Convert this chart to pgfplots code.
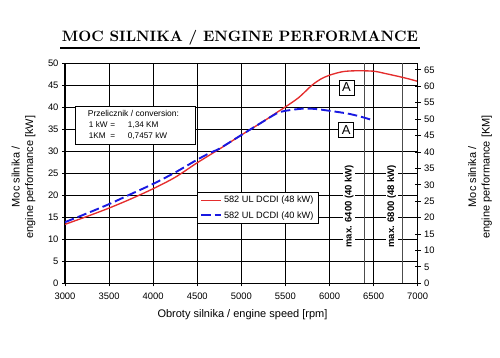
\documentclass[border=0pt]{standalone}
\usepackage{fontspec}
\setsansfont{Liberation Sans}
\usepackage{graphicx}
\usepackage{pgfplots}
\pgfplotsset{compat=1.18}
\definecolor{cred}{RGB}{228,45,45}
\definecolor{cblue}{RGB}{25,25,225}

\begin{document}
\begin{tikzpicture}
\useasboundingbox (-65pt,-74.7pt) rectangle (435pt,283.3pt);
\begin{axis}[
  at={(0pt,0pt)}, anchor=south west,
  scale only axis, width=352.7pt, height=220pt,
  xmin=3000, xmax=7000, ymin=0, ymax=50,
  xtick={3000,3500,...,7000}, ytick={0,5,...,50},
  tick pos=left, tick align=center, major tick length=6pt,
  grid=major, major grid style={black, line width=0.9pt},
  axis line style={black, line width=1.1pt},
  tick style={black, line width=0.9pt},
  /pgf/number format/assume math mode=true,
  /pgf/number format/1000 sep={},
  tick label style={font=\sffamily\fontsize{9.4}{10}\selectfont},
  xticklabel style={yshift=-3pt},
  legend style={at={(0.374,0.415)}, anchor=north west, draw=black, fill=white,
    font=\sffamily\fontsize{9.2}{10}\selectfont, row sep=3pt, inner xsep=3pt, inner ysep=2pt},
  legend cell align=left,
  legend image code/.code={\draw[#1] (0pt,0pt) -- (20pt,0pt);},
]
\addplot[gray!60!black, line width=0.7pt, forget plot] coordinates {(6400,0) (6400,50)};
\addplot[gray!60!black, line width=0.7pt, forget plot] coordinates {(6830,0) (6830,50)};

\addplot[cred, line width=1.35pt, smooth] coordinates {
(3000,13.4) (3250,15.2) (3500,17.1) (3750,19.2) (4000,21.5) (4250,24.1)
(4500,27.4) (4750,30.5) (5000,33.7) (5250,36.8) (5400,38.8) (5500,40.1)
(5650,42.2) (5800,45.0) (5900,46.4) (6000,47.3) (6150,48.1) (6300,48.3)
(6500,48.2) (6650,47.6) (6850,46.7) (7000,45.9)};
\addlegendentry{582 UL DCDI (48 kW)}

\addplot[cblue, line width=1.9pt, dash pattern=on 9.5pt off 4pt, smooth] coordinates {
(3000,13.9) (3250,15.9) (3500,18.0) (3750,20.3) (4000,22.6) (4250,25.2)
(4500,28.1) (4650,29.7) (4750,30.6) (5000,33.7) (5250,36.8) (5400,38.6)
(5500,39.2) (5700,39.7) (5850,39.6) (6000,39.2) (6200,38.6) (6350,37.9)
(6500,37.0)};
\addlegendentry{582 UL DCDI (40 kW)}

\node[rotate=90, fill=white, inner xsep=1pt, inner ysep=1.5pt,
  font=\sffamily\bfseries\fontsize{9.5}{10}\selectfont] at (axis cs:6223,17.5) {max. 6400 (40 kW)};
\node[rotate=90, fill=white, inner xsep=1pt, inner ysep=1.5pt,
  font=\sffamily\bfseries\fontsize{9.5}{10}\selectfont] at (axis cs:6704,17.5) {max. 6800 (48 kW)};

\node[draw, line width=0.8pt, fill=white, minimum size=15pt, inner sep=0pt,
  font=\sffamily\fontsize{13}{13}\selectfont] at (axis cs:6193,44.5) {A};
\node[draw, line width=0.8pt, fill=white, minimum size=15pt, inner sep=0pt,
  font=\sffamily\fontsize{13}{13}\selectfont] at (axis cs:6190,34.8) {A};

\draw[fill=white, line width=0.9pt] (axis cs:3113,40.1) rectangle (axis cs:4474,31.6);
\node[anchor=west, inner sep=0pt, font=\sffamily\fontsize{8.5}{9}\selectfont]
  at (axis cs:3257,38.7) {Przelicznik / conversion:};
\node[anchor=west, inner sep=0pt, font=\sffamily\fontsize{8.2}{9}\selectfont]
  at (axis cs:3269,36.0) {\makebox[21.5pt][l]{1 kW}\makebox[17.5pt][l]{=}1,34 KM};
\node[anchor=west, inner sep=0pt, font=\sffamily\fontsize{8.2}{9}\selectfont]
  at (axis cs:3269,33.5) {\makebox[21.5pt][l]{1KM}\makebox[17.5pt][l]{=}0,7457 kW};
\end{axis}

\begin{axis}[
  at={(0pt,0pt)}, anchor=south west,
  scale only axis, width=352.7pt, height=220pt,
  xmin=3000, xmax=7000, ymin=0, ymax=67,
  hide x axis, axis y line*=right,
  ytick={0,5,...,65}, tick align=center, major tick length=6pt,
  axis line style={black, line width=1.1pt},
  tick style={black, line width=0.9pt},
  /pgf/number format/assume math mode=true,
  tick label style={font=\sffamily\fontsize{9.4}{10}\selectfont},
]
\addplot[draw=none] coordinates {(3000,0) (7000,67)};
\end{axis}

\node[font=\rmfamily\bfseries] at (175pt,245.8pt)
  {\resizebox{356pt}{!}{\rmfamily\bfseries MOC SILNIKA / ENGINE PERFORMANCE}};
\draw[line width=1.6pt] (-5pt,235pt) -- (355pt,235pt);

\node[rotate=90, align=center, font=\sffamily\fontsize{11}{13.5}\selectfont]
  at (-41.5pt,106.3pt) {Moc silnika /\\engine performance [kW]};
\node[rotate=90, align=center, font=\sffamily\fontsize{11}{13.5}\selectfont]
  at (415pt,106.3pt) {Moc silnika /\\engine performance [KM]};
\node[font=\sffamily\fontsize{11}{13}\selectfont] at (177.5pt,-31.7pt)
  {Obroty silnika / engine speed [rpm]};
\end{tikzpicture}
\end{document}
